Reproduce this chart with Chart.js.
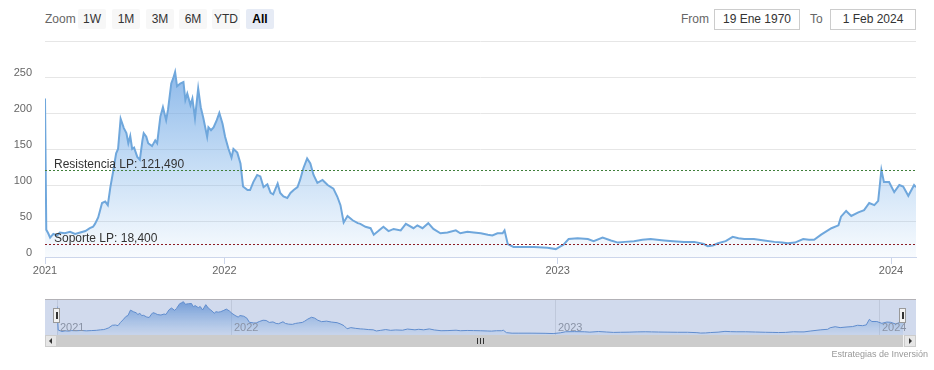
<!DOCTYPE html>
<html><head><meta charset="utf-8">
<script src="https://cdn.jsdelivr.net/npm/chart.js@4/dist/chart.umd.min.js"></script>
<style>
html,body{margin:0;padding:0;background:#fff;}
body{width:934px;height:370px;position:relative;overflow:hidden;font-family:"Liberation Sans",Arial,sans-serif;}
.btn{position:absolute;top:9px;height:20px;width:28px;background:#f7f7f7;color:#333;font-size:12px;line-height:20px;text-align:center;border-radius:2px;}
.btn.sel{background:#e6ebf5;font-weight:bold;color:#000;}
.lbl{position:absolute;top:12px;font-size:12px;color:#666;}
.inp{position:absolute;top:9px;height:19px;width:84px;border:1px solid #ccc;font-size:12px;color:#333;text-align:center;line-height:19px;}
#main{position:absolute;left:0;top:0;}
#nav{position:absolute;left:45px;top:300px;}
#navTop{position:absolute;left:45px;top:299px;width:871px;height:0;border-top:1px solid #b2b1b6;}
.handle{position:absolute;top:308px;width:7px;height:15px;background:#f2f2f2;border:1px solid #999;box-sizing:border-box;}
.handle:before,.handle:after{content:"";position:absolute;top:3px;height:7px;width:1px;background:#333;}
.handle:before{left:2px;}.handle:after{left:3px;}
#track{position:absolute;left:45px;top:335px;width:871px;height:12px;background:#f2f2f2;}
.sbtn{position:absolute;top:335px;width:12px;height:12px;background:#e6e6e6;box-sizing:border-box;border:1px solid #ccc;}
#bar{position:absolute;left:57px;top:335px;width:846px;height:12px;background:#ccc;box-sizing:border-box;border:1px solid #ccc;}
.grip{position:absolute;top:338px;width:1px;height:6px;background:#333;}
#credit{position:absolute;right:6px;top:349px;font-size:9px;color:#999;}
</style></head>
<body>
<div class="lbl" style="left:45px;top:12px;">Zoom</div>
<div class="btn" style="left:78px;">1W</div>
<div class="btn" style="left:112px;">1M</div>
<div class="btn" style="left:146px;">3M</div>
<div class="btn" style="left:179px;">6M</div>
<div class="btn" style="left:212px;">YTD</div>
<div class="btn sel" style="left:246px;">All</div>
<div class="lbl" style="left:681px;">From</div>
<div class="inp" style="left:714px;">19 Ene 1970</div>
<div class="lbl" style="left:810px;">To</div>
<div class="inp" style="left:830px;">1 Feb 2024</div>
<canvas id="main" width="934" height="290"></canvas>
<canvas id="nav" width="871" height="35"></canvas>
<div id="navTop"></div>
<div class="handle" style="left:53px;"></div>
<div class="handle" style="left:899px;"></div>
<div id="track"></div>
<div id="bar"></div>
<div class="sbtn" style="left:45px;"><svg width="10" height="10" style="position:absolute;left:0;top:0"><path d="M6 2 L3 5 L6 8 Z" fill="#333"/></svg></div>
<div class="sbtn" style="left:904px;"><svg width="10" height="10" style="position:absolute;left:0;top:0"><path d="M4 2 L7 5 L4 8 Z" fill="#333"/></svg></div>
<div class="grip" style="left:477px;"></div>
<div class="grip" style="left:480px;"></div>
<div class="grip" style="left:483px;"></div>
<div id="credit">Estrategias de Inversión</div>
<script>
// Ordinal position (trading weeks from start of series)
const semana = [0,0.2,0.5,0.8,1.3,1.9,2.3,3.1,3.9,4.7,5.5,6.3,7.0,7.5,7.8,8.3,8.9,9.4,9.8,10.2,10.6,11.1,11.4,11.8,12.3,12.7,13.0,13.3,13.6,13.9,14.4,14.8,15.2,15.4,15.8,16.1,16.7,17.2,17.5,18.0,18.4,18.9,19.2,19.7,20.0,20.3,20.6,21.1,21.6,21.9,22.2,22.7,23.0,23.4,23.9,24.3,24.7,25.3,25.5,25.9,26.3,26.8,27.2,27.7,28.1,28.6,29.1,29.4,30.0,30.5,30.9,31.6,32.0,32.5,33.1,33.6,34.1,34.7,35.2,35.6,36.3,36.7,37.2,37.8,38.3,38.8,39.4,39.8,40.3,40.9,41.4,41.9,42.5,43.3,44.1,45.0,45.6,46.1,46.6,47.2,48.0,48.8,49.2,50.0,50.8,51.3,52.0,52.8,53.6,54.4,55.5,56.3,57.5,58.1,58.9,59.8,60.6,61.7,62.8,64.1,64.8,65.9,66.9,68.0,69.1,69.8,70.6,71.4,71.7,72.2,73.1,74.2,76.3,78.4,79.7,80.5,80.9,81.7,83.1,84.7,85.6,87.0,88.3,89.4,90.5,91.9,93.2,94.5,95.5,96.6,98.0,99.7,101.3,102.8,103.4,104.2,105.0,106.2,107.3,108.2,109.1,110.6,112.2,113.8,115.0,115.9,117.0,118.3,119.2,120.0,121.1,122.7,123.8,124.2,125.0,125.8,126.9,127.8,128.6,129.4,130.0,130.5,130.9,131.7,132.5,133.3,133.9,134.7,135.6,135.9];
const precio = [220,38,33,27,32,30,34,33,35,32,34,36,40,42,46,55,75,77,72,97,117,144,150,192,179,172,158,168,150,152,139,135,162,172,167,158,154,162,158,195,208,190,205,241,248,257,237,241,243,218,227,211,220,193,234,208,193,167,180,176,180,190,200,185,167,151,138,150,145,130,98,93,93,104,114,112,97,101,89,87,102,89,84,82,89,93,97,107,123,137,130,114,103,107,100,95,84,72,48,57,51,47,46,42,40,31,36,42,36,39,37,46,40,44,40,47,39,33,34,37,33,35,34,33,31,30,33,33,37,18,14,14,14,13,11,15,17,25,26,25,22,27,23,20,21,22,24,25,24,23,22,21,21,18,15,16,19,22,28,26,25,25,23,21,20,19,20,25,24,24,31,40,44,56,64,57,62,65,75,72,78,121,104,104,90,100,98,85,100,97];
const anioPos = [0, 28, 80, 132];
const anioLabels = ['2021', '2022', '2023', '2024'];
const yTicks = [0, 50, 100, 150, 200, 250, 300];
const nivelValores = [121.49, 18.4];
const nivelTextos = ['Resistencia LP: 121,490', 'Soporte LP: 18,400'];

Chart.defaults.font.family = '"Liberation Sans", Arial, sans-serif';
const datos = semana.map((x, i) => ({x: x, y: precio[i]}));
const xMax = semana[semana.length - 1];
const nivelColores = ['#3f7f3a', '#8b1c24'];

const plotLines = {
  id: 'plotLines',
  afterDatasetsDraw(chart) {
    const {ctx, chartArea: a, scales: {y}} = chart;
    nivelValores.forEach((v, i) => {
      const py = Math.round(y.getPixelForValue(v)) + 0.5;
      ctx.save();
      ctx.strokeStyle = nivelColores[i];
      ctx.lineWidth = 1;
      ctx.setLineDash([2, 2]);
      ctx.beginPath(); ctx.moveTo(a.left, py); ctx.lineTo(a.right, py); ctx.stroke();
      ctx.setLineDash([]);
      ctx.fillStyle = '#333';
      ctx.font = '12px "Liberation Sans", Arial, sans-serif';
      ctx.textBaseline = 'alphabetic';
      ctx.fillText(nivelTextos[i], a.left + 9, py - 3);
      ctx.restore();
    });
  }
};

function grad(c, top, bot) {
  const a = c.chart.chartArea;
  if (!a) return top;
  const g = c.chart.ctx.createLinearGradient(0, a.top, 0, a.bottom);
  g.addColorStop(0, top); g.addColorStop(1, bot);
  return g;
}

new Chart(document.getElementById('main'), {
  type: 'line',
  data: {datasets: [{
    data: datos, borderColor: '#6fa7dc', borderWidth: 2, pointRadius: 0, tension: 0,
    fill: 'origin',
    backgroundColor: c => grad(c, 'rgba(108,163,226,0.9)', 'rgba(124,181,236,0.05)')
  }]},
  options: {
    responsive: false, animation: false,
    layout: {padding: {left: 0, right: 18, top: 41, bottom: 0}},
    plugins: {legend: {display: false}, tooltip: {enabled: false}},
    scales: {
      x: {
        type: 'linear', min: 0, max: xMax,
        afterBuildTicks: s => { s.ticks = anioPos.map(v => ({value: v})); },
        ticks: {callback: v => { const i = anioPos.indexOf(v); return i >= 0 ? anioLabels[i] : ''; },
                color: '#666', font: {size: 11}, padding: 0, maxRotation: 0, autoSkip: false},
        grid: {drawOnChartArea: false, drawTicks: true, tickLength: 7, color: '#ccd6eb'},
        border: {display: true, color: '#ccd6eb'},
        afterFit: s => { s.height = 33; }
      },
      y: {
        min: 0, max: 300,
        afterBuildTicks: s => { s.ticks = yTicks.map(v => ({value: v})); },
        ticks: {callback: v => v === 300 ? '' : String(v), color: '#666', font: {size: 11}, padding: 13, labelOffset: -4},
        grid: {color: '#e6e6e6', drawTicks: false},
        border: {display: false},
        afterFit: s => { s.width = 45; }
      }
    }
  },
  plugins: [plotLines]
});

const navPlugin = {
  id: 'navDeco',
  beforeDatasetsDraw(chart) {
    const {ctx, chartArea: a, scales: {x}} = chart;
    ctx.save();
    ctx.strokeStyle = '#e6e6e6'; ctx.lineWidth = 1;
    anioPos.forEach(v => {
      const px = Math.round(x.getPixelForValue(v)) + 0.5;
      ctx.beginPath(); ctx.moveTo(px, 0); ctx.lineTo(px, chart.height); ctx.stroke();
    });
    ctx.restore();
  },
  afterDatasetsDraw(chart) {
    const {ctx, scales: {x}} = chart;
    ctx.save();
    ctx.fillStyle = '#999';
    ctx.font = '11px "Liberation Sans", Arial, sans-serif';
    ctx.textBaseline = 'middle';
    anioPos.forEach((v, i) => {
      const px = Math.round(x.getPixelForValue(v));
      ctx.fillText(anioLabels[i], px + 3, 28);
    });
    ctx.fillStyle = 'rgba(102,133,194,0.3)';
    ctx.fillRect(0, 0, chart.width, chart.height);
    ctx.restore();
  }
};

new Chart(document.getElementById('nav'), {
  type: 'line',
  data: {datasets: [{
    data: datos, borderColor: '#5d90d2', borderWidth: 1, pointRadius: 0, tension: 0,
    fill: 'origin',
    backgroundColor: c => grad(c, 'rgba(90,145,215,0.85)', 'rgba(124,181,236,0.1)')
  }]},
  options: {
    responsive: false, animation: false,
    layout: {padding: {left: 12, right: 13, top: 0, bottom: 0}},
    plugins: {legend: {display: false}, tooltip: {enabled: false}},
    scales: {
      x: {type: 'linear', display: false, min: 0, max: xMax},
      y: {display: false, min: 0, max: 270}
    }
  },
  plugins: [navPlugin]
});
</script>
</body></html>
